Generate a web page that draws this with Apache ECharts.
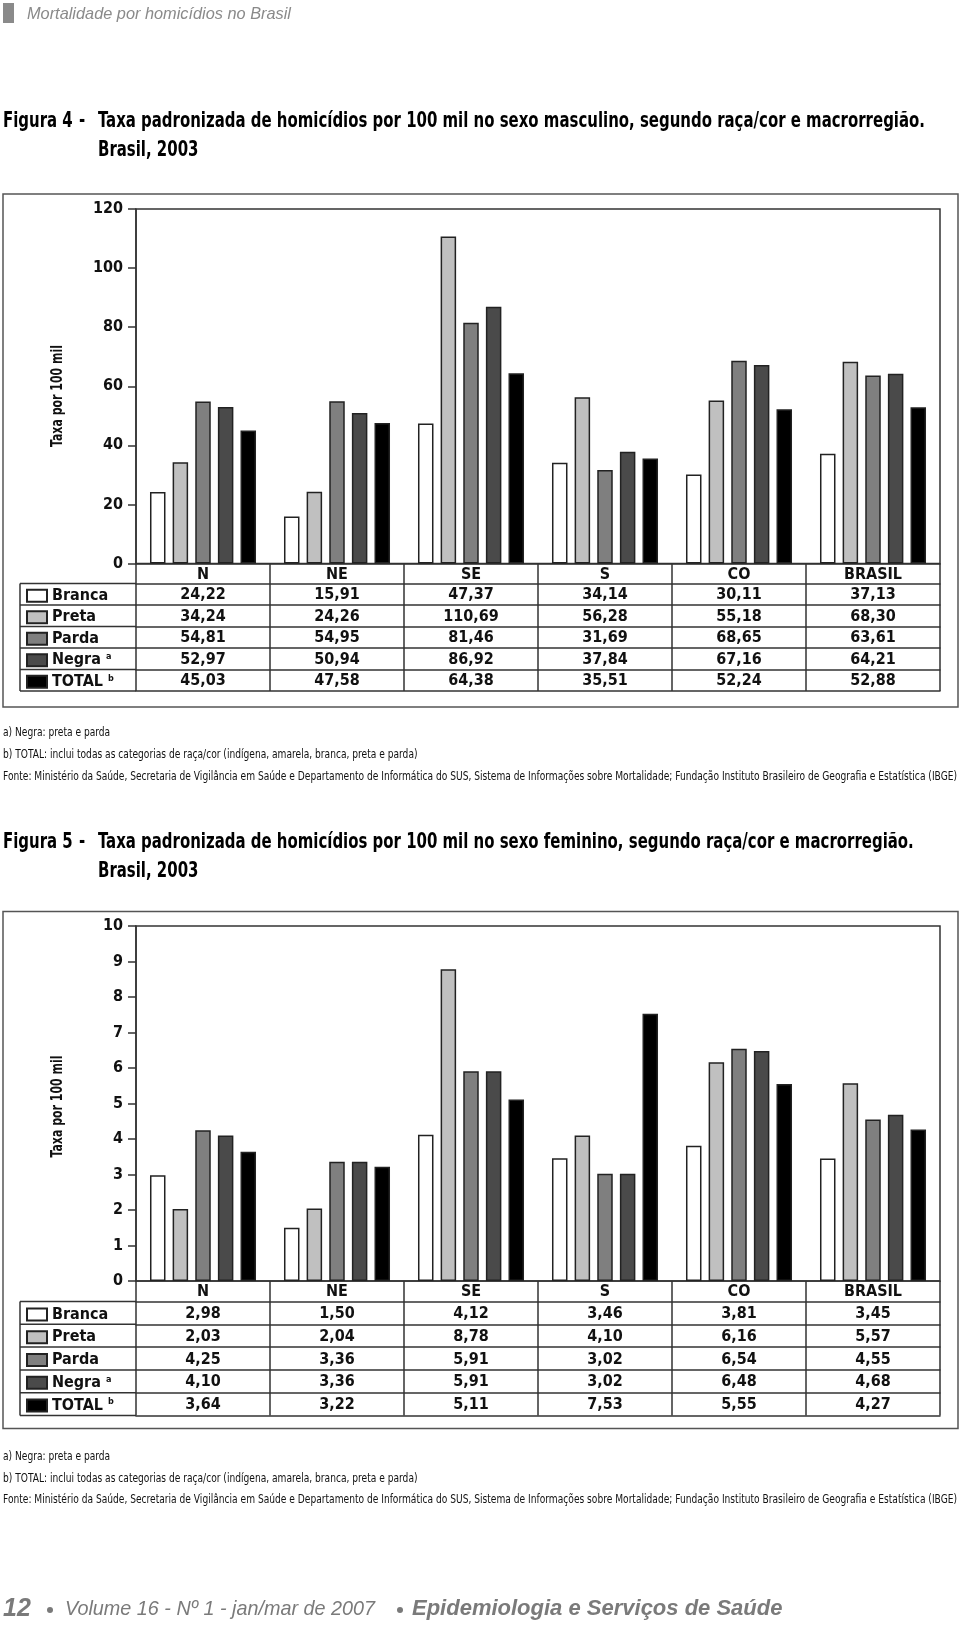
<!DOCTYPE html>
<html>
<head>
<meta charset="utf-8">
<script src="https://cdn.jsdelivr.net/npm/echarts@6/dist/echarts.min.js"></script>
<style>
html,body{margin:0;padding:0;background:#fff;}
#c{width:960px;height:1626px;}
</style>
</head>
<body>
<div id="c"></div>
<script>
// ---------- DATA ----------
var categories = ['N', 'NE', 'SE', 'S', 'CO', 'BRASIL'];
var seriesNames = ['Branca', 'Preta', 'Parda', 'Negra', 'TOTAL'];

// Figura 4 - sexo masculino
var masc_branca = [24.22, 15.91, 47.37, 34.14, 30.11, 37.13];
var masc_preta  = [34.24, 24.26, 110.69, 56.28, 55.18, 68.30];
var masc_parda  = [54.81, 54.95, 81.46, 31.69, 68.65, 63.61];
var masc_negra  = [52.97, 50.94, 86.92, 37.84, 67.16, 64.21];
var masc_total  = [45.03, 47.58, 64.38, 35.51, 52.24, 52.88];

// Figura 5 - sexo feminino
var fem_branca = [2.98, 1.50, 4.12, 3.46, 3.81, 3.45];
var fem_preta  = [2.03, 2.04, 8.78, 4.10, 6.16, 5.57];
var fem_parda  = [4.25, 3.36, 5.91, 3.02, 6.54, 4.55];
var fem_negra  = [4.10, 3.36, 5.91, 3.02, 6.48, 4.68];
var fem_total  = [3.64, 3.22, 5.11, 7.53, 5.55, 4.27];

var yTicks4 = {min: 0, max: 120, interval: 20};
var yTicks5 = {min: 0, max: 10, interval: 1};

var yAxisName = 'Taxa por 100 mil';
var headerText = 'Mortalidade por homicídios no Brasil';
var title4a = 'Figura 4';
var title4b = 'Taxa padronizada de homicídios por 100 mil no sexo masculino, segundo raça/cor e macrorregião.';
var title5a = 'Figura 5';
var title5b = 'Taxa padronizada de homicídios por 100 mil no sexo feminino, segundo raça/cor e macrorregião.';
var titleLine2 = 'Brasil, 2003';
var notes = [
  'a) Negra: preta e parda',
  'b) TOTAL: inclui todas as categorias de raça/cor (indígena, amarela, branca, preta e parda)',
  'Fonte: Ministério da Saúde, Secretaria de Vigilância em Saúde e Departamento de Informática do SUS, Sistema de Informações sobre Mortalidade; Fundação Instituto Brasileiro de Geografia e Estatística (IBGE)'
];
var footerNum = '12';
var footerVol = 'Volume 16 - Nº 1 - jan/mar de 2007';
var footerJournal = 'Epidemiologia e Serviços de Saúde';

// ---------- STYLE / LAYOUT ----------
var NARROW = "'Liberation Sans Narrow', 'DejaVu Sans Condensed', 'Arial Narrow', sans-serif";
var SANS = "'Liberation Sans', sans-serif";
var fills = ['#ffffff', '#c0c0c0', '#7f7f7f', '#4a4a4a', '#000000'];
var LINE = '#333333';

function fmt(v) { return v.toFixed(2).replace('.', ','); }

var mctx = document.createElement('canvas').getContext('2d');
function measure(text, size, family, weight, style) {
  mctx.font = (style || 'normal') + ' ' + (weight || 'normal') + ' ' + size + 'px ' + family;
  return mctx.measureText(text).width;
}
function fitScale(text, size, family, weight, style, target) {
  var w = measure(text, size, family, weight, style);
  return w > 0 ? Math.min(1, target / w) : 1;
}

var titleSize = 21;
var titleScale = fitScale(title4b, titleSize, NARROW, 'bold', 'normal', 827);
var noteSize = 13;
var noteScale = fitScale(notes[2], noteSize, NARROW, 'normal', 'normal', 954);
var nameScale = fitScale(yAxisName, 16, NARROW, 'bold', 'normal', 102);

var figs = [
  {
    data: [masc_branca, masc_preta, masc_parda, masc_negra, masc_total],
    ticks: yTicks4,
    box: {x: 3, y: 194, w: 955, h: 513},
    grid: {left: 136, top: 209, width: 804, height: 354.5},
    headerH: 20, rowH: 21.5,
    titleY: 122, notesY: 733, nameY: 396,
    tA: title4a, tB: title4b
  },
  {
    data: [fem_branca, fem_preta, fem_parda, fem_negra, fem_total],
    ticks: yTicks5,
    box: {x: 3, y: 911.5, w: 955, h: 517},
    grid: {left: 136, top: 926, width: 804, height: 355},
    headerH: 20.5, rowH: 22.8,
    titleY: 843, notesY: 1456.5, nameY: 1106.5,
    tA: title5a, tB: title5b
  }
];

var grids = [], xAxes = [], yAxes = [], series = [], legends = [], graphics = [];

var labelFont = {fontFamily: NARROW, fontWeight: 'bold', fontSize: 16, color: '#111'};

figs.forEach(function (f, fi) {
  grids.push({
    left: f.grid.left, top: f.grid.top, width: f.grid.width, height: f.grid.height,
    show: true, borderColor: LINE, borderWidth: 1.5, backgroundColor: 'transparent',
    outerBoundsMode: 'none'
  });
  var mainX = xAxes.length;
  // main category axis = header row of the table
  xAxes.push({
    type: 'category', gridIndex: fi, data: categories, position: 'bottom',
    axisLine: {show: true, lineStyle: {color: LINE, width: 1.5}},
    axisTick: {show: true, interval: 0, length: f.headerH, lineStyle: {color: LINE, width: 1.5}},
    axisLabel: Object.assign({interval: 0, margin: f.headerH / 2 + 1, verticalAlign: 'middle'}, labelFont),
    splitLine: {show: false}
  });
  // one axis per table row
  f.data.forEach(function (rowVals, r) {
    xAxes.push({
      type: 'category', gridIndex: fi, data: categories, position: 'bottom',
      offset: f.headerH + r * f.rowH,
      axisLine: {show: true, lineStyle: {color: LINE, width: 1.5}},
      axisTick: {show: true, interval: 0, length: f.rowH, lineStyle: {color: LINE, width: 1.5}},
      axisLabel: Object.assign({
        interval: 0, margin: f.rowH / 2 + 1, verticalAlign: 'middle',
        formatter: (function (vals) { return function (v, idx) { return fmt(vals[idx]); }; })(rowVals)
      }, labelFont),
      splitLine: {show: false}
    });
  });
  // closing bottom line of the table
  xAxes.push({
    type: 'category', gridIndex: fi, data: categories, position: 'bottom',
    offset: f.headerH + 5 * f.rowH,
    axisLine: {show: true, lineStyle: {color: LINE, width: 1.5}},
    axisTick: {show: false}, axisLabel: {show: false}, splitLine: {show: false}
  });

  yAxes.push({
    type: 'value', gridIndex: fi, min: f.ticks.min, max: f.ticks.max, interval: f.ticks.interval,
    axisLine: {show: true, lineStyle: {color: LINE, width: 1.5}},
    axisTick: {show: true, inside: false, length: 8, lineStyle: {color: LINE, width: 1.5}},
    axisLabel: Object.assign({margin: 13}, labelFont),
    splitLine: {show: false}
  });

  f.data.forEach(function (vals, s) {
    series.push({
      type: 'bar', name: seriesNames[s], xAxisIndex: mainX, yAxisIndex: fi,
      data: vals, barWidth: 15.5, barGap: '46%',
      itemStyle: {color: fills[s], borderColor: '#222', borderWidth: 1.5},
      silent: true
    });
  });

  var zeroY = f.grid.top + f.grid.height;
  var rowTop = zeroY + f.headerH;
  legends.push({
    orient: 'vertical', left: 26, top: rowTop + (f.rowH - 16) / 2 + 1.5, padding: 0,
    itemWidth: 20, itemHeight: 12, itemGap: f.rowH - 16,
    data: seriesNames, selectedMode: false, icon: 'rect',
    formatter: function (n) {
      if (n === 'Negra') return 'Negra {sup|a}';
      if (n === 'TOTAL') return 'TOTAL {sup|b}';
      return n;
    },
    textStyle: {
      fontFamily: NARROW, fontWeight: 'bold', fontSize: 16, color: '#111', lineHeight: 16,
      rich: {sup: {fontFamily: NARROW, fontWeight: 'bold', fontSize: 9, lineHeight: 8, verticalAlign: 'top', color: '#111'}}
    }
  });

  // y axis name (rotated, horizontally condensed)
  graphics.push({type: 'text', x: 58, y: f.nameY, rotation: Math.PI / 2, scaleX: nameScale,
    style: {text: yAxisName, fontFamily: NARROW, fontWeight: 'bold', fontSize: 16, fill: '#111',
      align: 'center', verticalAlign: 'middle'}, silent: true});

  // legend column borders
  var legLeft = 20, legRight = f.grid.left;
  for (var r = 0; r <= 5; r++) {
    var yy = rowTop + r * f.rowH;
    graphics.push({type: 'line', shape: {x1: legLeft, y1: yy, x2: legRight, y2: yy},
      style: {stroke: LINE, lineWidth: 1.5}, silent: true});
  }
  graphics.push({type: 'line', shape: {x1: legLeft, y1: rowTop, x2: legLeft, y2: rowTop + 5 * f.rowH},
    style: {stroke: LINE, lineWidth: 1.5}, silent: true});

  // outer frame
  graphics.push({type: 'rect', shape: {x: f.box.x, y: f.box.y, width: f.box.w, height: f.box.h},
    style: {fill: 'none', stroke: '#555', lineWidth: 1.5}, silent: true});

  // titles
  var tStyle = {fontFamily: NARROW, fontWeight: 'bold', fontSize: titleSize, fill: '#000', verticalAlign: 'middle'};
  graphics.push({type: 'text', x: 3, y: f.titleY, scaleX: titleScale, style: Object.assign({text: f.tA}, tStyle)});
  graphics.push({type: 'text', x: 79, y: f.titleY, scaleX: titleScale, style: Object.assign({text: '-'}, tStyle)});
  graphics.push({type: 'text', x: 98, y: f.titleY, scaleX: titleScale, style: Object.assign({text: f.tB}, tStyle)});
  graphics.push({type: 'text', x: 98, y: f.titleY + 28.5, scaleX: titleScale, style: Object.assign({text: titleLine2}, tStyle)});

  // notes
  notes.forEach(function (t, i) {
    graphics.push({type: 'text', x: 3, y: f.notesY + i * 21.8, scaleX: noteScale,
      style: {text: t, fontFamily: NARROW, fontSize: noteSize, fill: '#111', verticalAlign: 'middle'}});
  });
});

// page header
graphics.push({type: 'rect', shape: {x: 3, y: 3, width: 11, height: 20}, style: {fill: '#8a8a8a'}, silent: true});
var hdrSize = 16.5;
graphics.push({type: 'text', x: 27, y: 14,
  scaleX: fitScale(headerText, hdrSize, SANS, 'normal', 'italic', 264),
  style: {text: headerText, fontFamily: SANS, fontStyle: 'italic', fontSize: hdrSize, fill: '#8a8a8a', verticalAlign: 'middle'}});

// footer
var FG = '#7a7a7a';
graphics.push({type: 'text', x: 3, y: 1609,
  style: {text: footerNum, fontFamily: SANS, fontStyle: 'italic', fontWeight: 'bold', fontSize: 25, fill: FG, verticalAlign: 'middle'}});
graphics.push({type: 'circle', shape: {cx: 50, cy: 1610, r: 3}, style: {fill: FG}, silent: true});
var volSize = 21;
graphics.push({type: 'text', x: 65, y: 1609,
  scaleX: fitScale(footerVol, volSize, SANS, 'normal', 'italic', 310),
  style: {text: footerVol, fontFamily: SANS, fontStyle: 'italic', fontSize: volSize, fill: FG, verticalAlign: 'middle'}});
graphics.push({type: 'circle', shape: {cx: 400, cy: 1610, r: 3}, style: {fill: FG}, silent: true});
var jSize = 22;
graphics.push({type: 'text', x: 412, y: 1609,
  scaleX: fitScale(footerJournal, jSize, SANS, 'bold', 'italic', 371),
  style: {text: footerJournal, fontFamily: SANS, fontStyle: 'italic', fontWeight: 'bold', fontSize: jSize, fill: FG, verticalAlign: 'middle'}});

var chart = echarts.init(document.getElementById('c'), null, {renderer: 'canvas'});
chart.setOption({
  animation: false,
  backgroundColor: '#ffffff',
  grid: grids,
  xAxis: xAxes,
  yAxis: yAxes,
  legend: legends,
  series: series,
  graphic: {elements: graphics}
});
</script>
</body>
</html>
